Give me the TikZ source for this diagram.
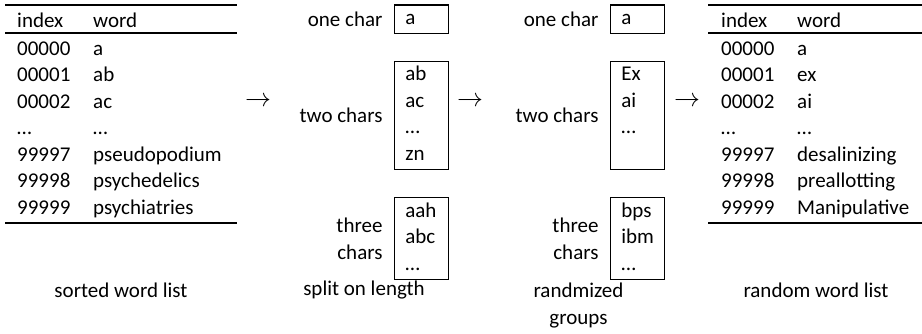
\documentclass[tikz,border=0pt]{standalone}
\usepackage{fontspec}
\setmainfont{Carlito}
\usetikzlibrary{positioning}

\begin{document}
\begin{tikzpicture}[
    x=1pt, y=-1pt,
    font=\fontsize{21}{26.5}\selectfont,
    cell/.style={anchor=base west, inner sep=0},
    rule/.style={line width=1.3pt},
    group/.style={draw, line width=1.2pt, align=left, text width=32pt,
                  inner xsep=11pt, inner ysep=1pt,
                  execute at begin node=\strut, execute at end node=\strut},
    side/.style={align=right, inner sep=0},
    caption/.style={anchor=base, inner sep=0, align=center},
    flow/.style={inner sep=0, scale=1.25}
]
\useasboundingbox (0,0) rectangle (922,333);

% sorted word list
\draw[rule] (5,5) -- (237,5);
\draw[rule] (5,33) -- (237,33);
\draw[rule] (5,223) -- (237,223);
\node[cell] (sidx) at (17,27.5) {index};
\node[cell] (swrd) at (93,27.5) {word};
\foreach \y/\idx/\wrd [count=\i] in {55/00000/a, 81.5/00001/ab, 108/00002/ac, 134.5/…/…,
        161/99997/pseudopodium, 187.5/99998/psychedelics, 214/99999/psychiatries} {
    \node[cell] (si\i) at (17,\y) {\idx};
    \node[cell] (sw\i) at (93,\y) {\wrd};
}
\node[caption] (sortcap) at (121,297) {sorted word list};

% split on length
\node[group] (sa) at (421.3,19.2) {a};
\node[group, below=26.5pt of sa] (sb) {ab\\ac\\…\\zn};
\node[group, below=27.5pt of sb] (sc) {aah\\abc\\…};
\node[side, left=11pt of sa] (sal) {one char};
\node[side, left=11pt of sb] (sbl) {two chars};
\node[side, left=11pt of sc] (scl) {three\\chars};
\node[caption] (splitcap) at (364,295) {split on length};

% randomized groups
\node[group] (ra) at (637.3,19.2) {a};
\node[group, below=26.5pt of ra] (rb) {Ex\\ai\\…\\};
\node[group, below=27.5pt of rb] (rc) {bps\\ibm\\…};
\node[side, left=11pt of ra] (ral) {one char};
\node[side, left=11pt of rb] (rbl) {two chars};
\node[side, left=11pt of rc] (rcl) {three\\chars};
\node[caption] (randcap) at (578.5,324) {randmized\\groups};

% random word list
\draw[rule] (708,5) -- (922,5);
\draw[rule] (708,33) -- (922,33);
\draw[rule] (708,223) -- (922,223);
\node[cell] (ridx) at (721,27.5) {index};
\node[cell] (rwrd) at (797,27.5) {word};
\foreach \y/\idx/\wrd [count=\i] in {55/00000/a, 81.5/00001/ex, 108/00002/ai, 134.5/…/…,
        161/99997/desalinizing, 187.5/99998/preallotting, 214/99999/Manipulative} {
    \node[cell] (ri\i) at (721,\y) {\idx};
    \node[cell] (rw\i) at (797,\y) {\wrd};
}
\node[caption] (randlistcap) at (816,297) {random word list};

% steps
\node[flow] (step1) at (258,102) {$\rightarrow$};
\node[flow] (step2) at (470,102) {$\rightarrow$};
\node[flow] (step3) at (687,102) {$\rightarrow$};
\end{tikzpicture}
\end{document}
